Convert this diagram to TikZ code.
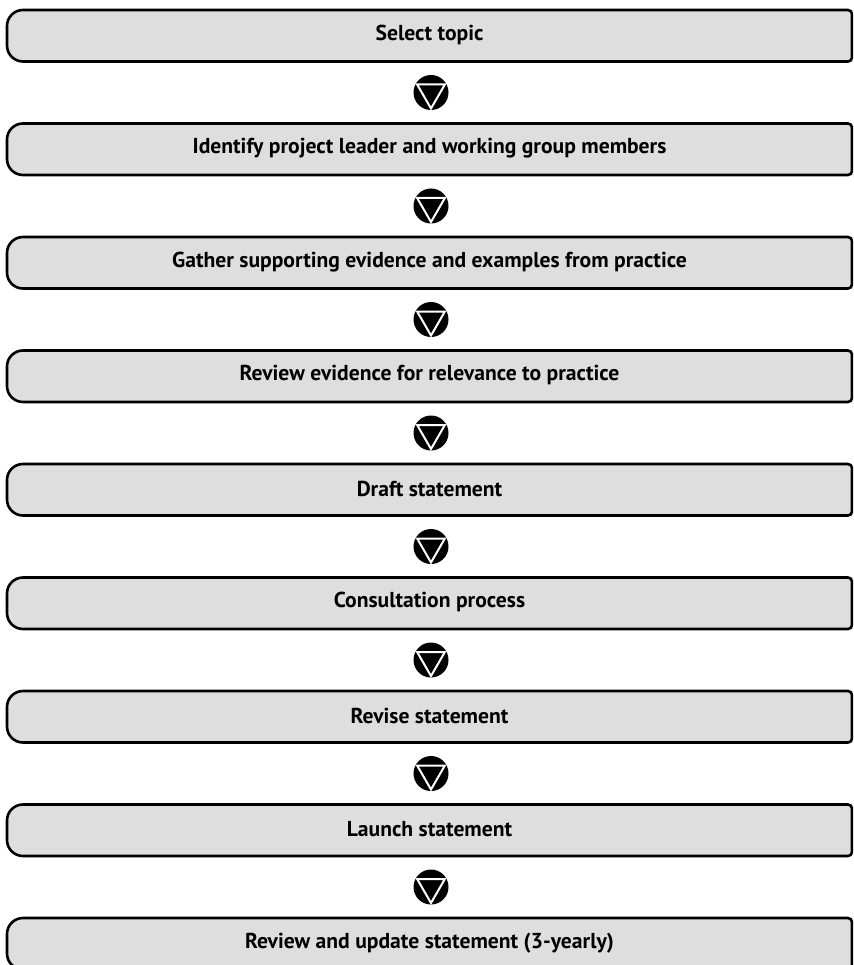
\documentclass[tikz,border=0pt]{standalone}
\usepackage{fontspec}
\setmainfont{PT Sans}
\definecolor{boxgray}{RGB}{222,222,222}
\usetikzlibrary{calc}
\tikzset{
  x=1pt, y=1pt,
  boxline/.style={draw=black, line width=2.6pt, fill=boxgray},
  boxtext/.style={font=\bfseries\fontsize{21.6}{25}\selectfont, inner sep=0pt, anchor=center},
  stepicon/.style={circle, fill=black, minimum size=35pt, inner sep=0pt,
    path picture={\draw[white, line width=2pt, line join=miter]
      ($(path picture bounding box.center)+(150:16)$) --
      ($(path picture bounding box.center)+(30:16)$) --
      ($(path picture bounding box.center)+(270:16)$) -- cycle;}}
}
\newcommand{\flowbox}[3]{%
  % #1 name, #2 top (px from top), #3 text
  \pgfmathsetmacro{\bt}{-#2}\pgfmathsetmacro{\bb}{-#2-51.5}%
  \draw[boxline] (23,\bt) -- (848,\bt) arc[start angle=90,end angle=0,radius=4]
    -- (852,\bb+4) arc[start angle=0,end angle=-90,radius=4]
    -- (23,\bb) arc[start angle=270,end angle=180,radius=16]
    -- (7,\bt-16) arc[start angle=180,end angle=90,radius=16] -- cycle;
  \node[boxtext] (#1) at (429.5,{(\bt+\bb)/2+1}) {#3};%
}
\begin{document}
\begin{tikzpicture}
\useasboundingbox (0,-965) rectangle (853,0);
\clip (0,-965) rectangle (853,0);
\flowbox{b1}{10}{Select topic}
\flowbox{b2}{123.5}{Identify project leader and working group members}
\flowbox{b3}{237}{Gather supporting evidence and examples from practice}
\flowbox{b4}{350.5}{Review evidence for relevance to practice}
\flowbox{b5}{464}{Draft statement}
\flowbox{b6}{577.5}{Consultation process}
\flowbox{b7}{691}{Revise statement}
\flowbox{b8}{804.5}{Launch statement}
\flowbox{b9}{918}{Review and update statement (3-yearly)}
\foreach \k/\yy in {1/92.5,2/206,3/319.5,4/433,5/546.5,6/660,7/773.5,8/887}{
  \node[stepicon] (a\k) at (431,-\yy) {};
}
\end{tikzpicture}
\end{document}
